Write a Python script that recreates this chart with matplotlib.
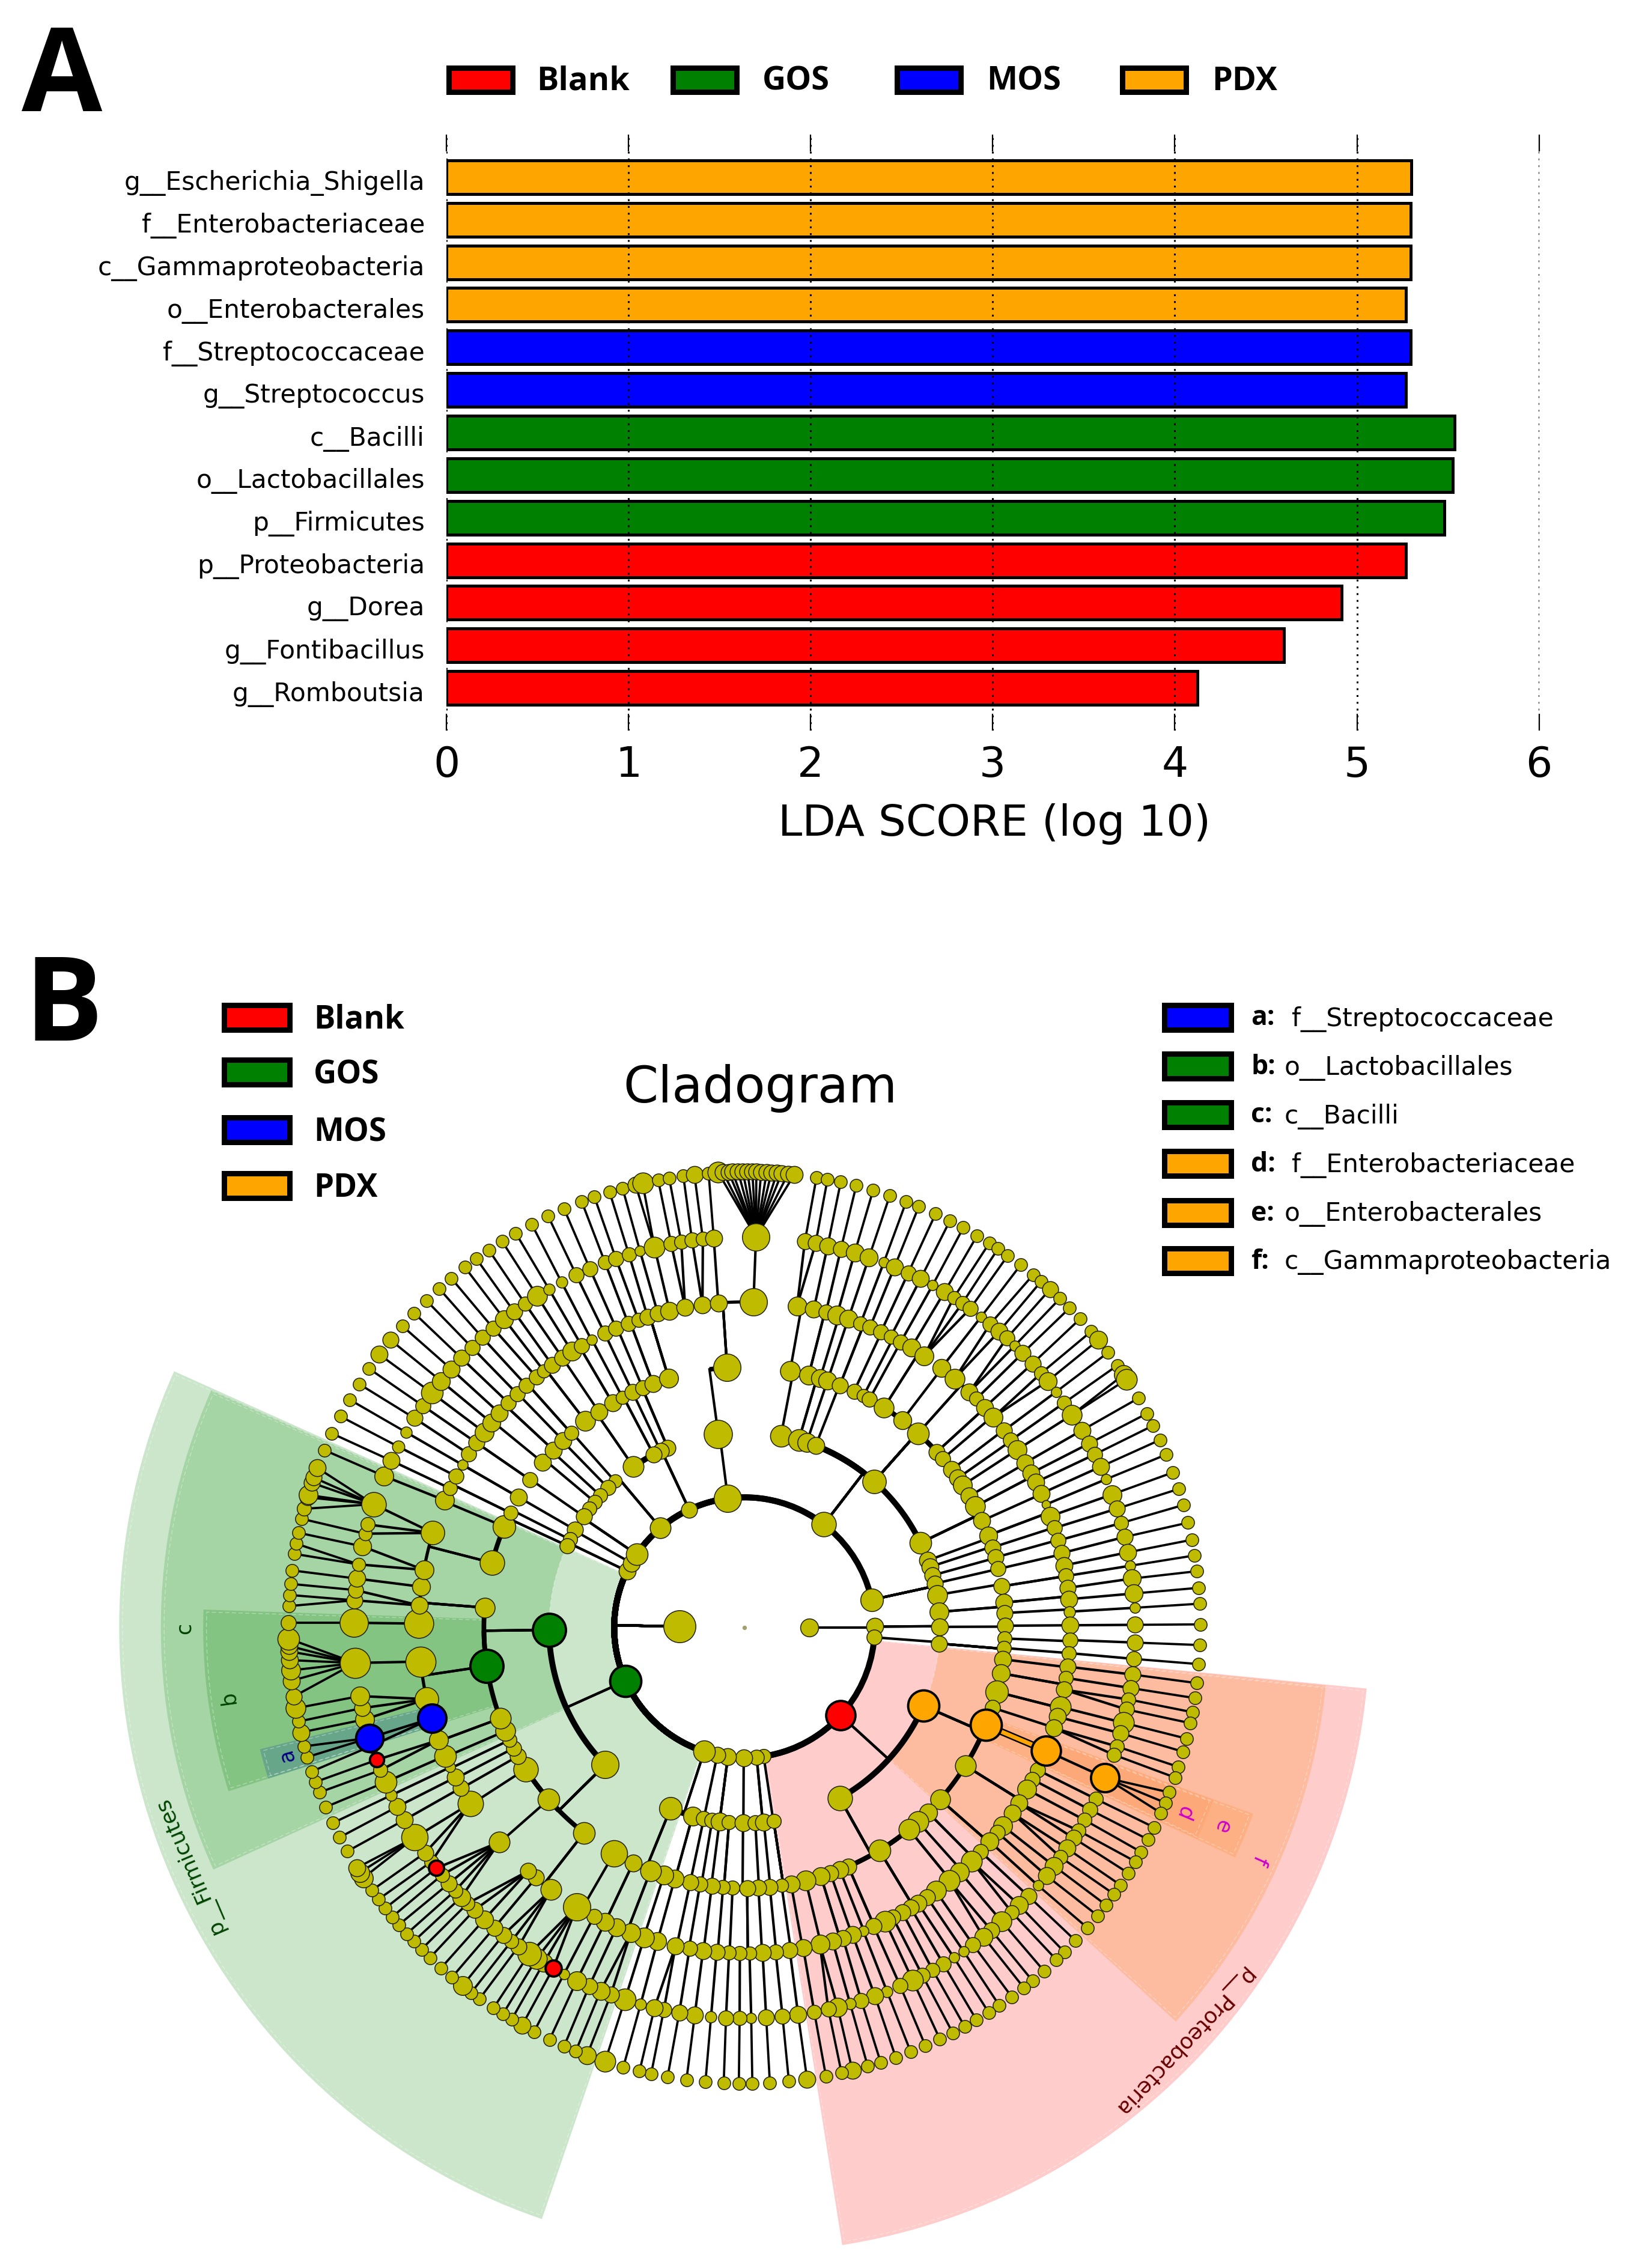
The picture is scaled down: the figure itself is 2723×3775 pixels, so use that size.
import numpy as np
import matplotlib
matplotlib.use('Agg')
import matplotlib.pyplot as plt
from matplotlib.patches import Rectangle
from matplotlib.transforms import ScaledTranslation

W, H = 2723, 3775

# ---- panel A data ----
taxa = ['g__Romboutsia', 'g__Fontibacillus', 'g__Dorea', 'p__Proteobacteria', 'p__Firmicutes',
        'o__Lactobacillales', 'c__Bacilli', 'g__Streptococcus', 'f__Streptococcaceae',
        'o__Enterobacterales', 'c__Gammaproteobacteria', 'f__Enterobacteriaceae', 'g__Escherichia_Shigella']
lda = [4.125, 4.60, 4.915, 5.27, 5.48, 5.525, 5.535, 5.27, 5.295, 5.27, 5.295, 5.295, 5.30]
taxa_group = ['Blank', 'Blank', 'Blank', 'Blank', 'GOS', 'GOS', 'GOS', 'MOS', 'MOS', 'PDX', 'PDX', 'PDX', 'PDX']
groups = ['Blank', 'GOS', 'MOS', 'PDX']
group_colors = {'Blank': '#ff0000', 'GOS': '#008000', 'MOS': '#0000ff', 'PDX': '#ffa500'}

# ---- panel B data: (angle in degrees, node diameter) for each ring of the cladogram ----
ring1 = [(179.0, 68), (0.0, 38)]
ring2 = [(97.3, 58), (52.4, 52), (12.3, 48), (0.4, 36), (-4.3, 32), (-42.4, 62), (-81.5, 30), (-84.6, 32),
         (-90.3, 36), (-97.3, 36), (-102.0, 34), (-108.0, 46), (-155.8, 66), (154.3, 36), (150.3, 36),
         (145.8, 46), (130.1, 44), (115.1, 34)]
ring3 = [(97.7, 60), (113.1, 34), (115.4, 34), (117.7, 34), (124.6, 44), (131.5, 28), (134.3, 32), (137.5, 30),
         (140.0, 30), (142.6, 30), (145.3, 34), (150.0, 34), (153.2, 30), (155.2, 32), (-179.3, 70), (-135.4, 58),
         (-112.2, 48), (-105.4, 40), (-102.0, 32), (-99.5, 32), (-97.3, 38), (-94.5, 30), (-90.4, 36), (-86.8, 32),
         (-84.3, 36), (-81.4, 30), (-60.8, 52), (-23.6, 66), (79.2, 46), (73.8, 46), (71.4, 40), (68.6, 36),
         (48.4, 50), (25.7, 46), (20.1, 36), (18.1, 36), (15.5, 34), (13.0, 34), (9.6, 42), (4.6, 40), (0.2, 36),
         (-4.7, 34)]
ring4 = [(79.9, 42), (75.7, 40), (73.1, 38), (71.4, 38), (68.5, 34), (65.1, 32), (62.8, 28), (61.3, 32), (57.6, 42),
         (52.7, 38), (48.2, 46), (42.4, 34), (40.4, 32), (37.3, 36), (35.0, 36), (33.1, 40), (30.3, 36), (27.7, 42),
         (24.2, 36), (20.7, 38), (17.9, 34), (15.6, 34), (13.0, 32), (9.1, 34), (5.5, 36), (3.2, 34), (0.4, 34),
         (-2.4, 30), (-4.5, 30), (-7.0, 36), (-10.1, 38), (-14.3, 48), (-17.9, 32), (-22.0, 66), (-32.0, 44),
         (-41.3, 42), (-45.2, 38), (-48.2, 44), (-50.8, 44), (-58.8, 46), (-66.5, 34), (-68.5, 36), (-70.7, 34),
         (-72.9, 38), (-76.4, 42), (-79.7, 36), (-81.8, 28), (-84.4, 34), (-86.9, 34), (-89.4, 34), (-92.6, 30),
         (-94.7, 30), (-97.2, 34), (-99.8, 32), (-102.0, 34), (-105.5, 38), (-108.0, 40), (-111.1, 44), (-115.3, 36),
         (-120.0, 56), (-128.0, 46), (-138.7, 46), (-147.1, 52), (-150.4, 34), (-152.4, 32), (-154.4, 30),
         (-156.6, 42), (-159.6, 44), (-171.5, 70), (175.6, 42), (165.6, 52), (157.2, 48), (153.9, 30), (150.0, 36),
         (145.4, 32), (140.7, 36), (137.1, 36), (134.1, 36), (131.7, 30), (127.6, 42), (124.0, 36), (120.4, 36),
         (117.9, 28), (115.4, 34), (113.0, 32), (110.5, 36), (106.9, 40), (93.8, 58)]
ring5 = [(80.7, 40), (77.7, 36), (75.5, 32), (73.5, 40), (71.4, 38), (69.1, 30), (67.3, 32), (65.2, 32), (63.3, 30),
         (61.3, 32), (59.2, 38), (56.5, 40), (52.8, 38), (49.8, 42), (46.3, 36), (44.6, 30), (42.5, 36), (40.2, 40),
         (37.2, 34), (35.1, 32), (33.1, 40), (30.4, 36), (28.3, 36), (26.5, 36), (24.3, 36), (22.2, 18), (20.0, 40),
         (17.8, 32), (15.5, 32), (13.2, 34), (11.0, 36), (9.1, 32), (7.0, 34), (5.0, 36), (2.8, 24), (0.4, 36),
         (-2.2, 32), (-4.5, 30), (-6.9, 34), (-8.9, 30), (-11.0, 34), (-14.1, 44), (-15.9, 36), (-18.0, 36),
         (-22.2, 62), (-25.9, 32), (-27.8, 32), (-29.8, 40), (-32.6, 36), (-34.7, 36), (-37.5, 40), (-39.0, 32),
         (-41.1, 38), (-43.5, 32), (-45.8, 44), (-48.6, 40), (-51.0, 44), (-54.0, 42), (-55.9, 34), (-57.8, 36),
         (-59.3, 34), (-61.0, 34), (-62.9, 32), (-64.4, 44), (-66.6, 34), (-68.6, 22), (-70.6, 36), (-72.4, 34),
         (-74.3, 36), (-76.6, 40), (-79.6, 36), (-82.0, 34), (-84.5, 32), (-86.8, 36), (-89.1, 28), (-90.8, 30),
         (-92.7, 30), (-94.9, 34), (-97.3, 36), (-99.7, 32), (-102.2, 36), (-105.5, 38), (-107.9, 42), (-110.4, 40),
         (-113.1, 38), (-115.3, 38), (-117.5, 32), (-121.0, 58), (-126.4, 44), (-129.8, 34), (-131.6, 34),
         (-138.8, 44), (-147.3, 54), (-150.5, 34), (-152.6, 36), (-154.6, 22), (-156.8, 46), (-159.8, 40),
         (-163.8, 60), (-167.3, 50), (-174.0, 64), (179.3, 62), (176.1, 36), (172.8, 38), (169.8, 40), (163.1, 50),
         (157.0, 40), (154.7, 30), (152.3, 32), (150.0, 22), (147.8, 32), (145.4, 34), (143.1, 40), (141.0, 38),
         (138.8, 36), (136.4, 32), (134.2, 32), (132.0, 32), (129.7, 32), (128.0, 28), (126.2, 34), (124.0, 34),
         (122.0, 40), (120.0, 32), (118.0, 22), (115.4, 32), (113.2, 32), (110.9, 32), (109.0, 30), (107.3, 34),
         (105.4, 34), (103.3, 38), (100.5, 36), (97.4, 36), (94.6, 36), (88.4, 58)]
ring6 = [(81.1, 34), (79.5, 34), (77.7, 36), (75.7, 34), (73.6, 38), (71.4, 38), (69.1, 22), (67.4, 36), (65.2, 32),
         (63.2, 36), (61.2, 22), (59.2, 36), (57.6, 28), (56.1, 30), (54.7, 32), (52.7, 22), (51.0, 32), (49.3, 36),
         (47.8, 32), (46.2, 22), (44.6, 34), (42.5, 34), (40.6, 30), (39.1, 38), (37.1, 22), (35.1, 30), (33.0, 42),
         (30.3, 36), (28.1, 34), (26.3, 32), (24.3, 36), (22.3, 22), (19.9, 40), (17.7, 34), (15.5, 30), (13.4, 34),
         (11.1, 36), (9.1, 22), (7.2, 38), (5.0, 38), (2.9, 22), (0.4, 34), (-2.2, 34), (-4.6, 32), (-6.9, 34),
         (-8.9, 34), (-10.6, 30), (-12.1, 32), (-14.1, 44), (-15.7, 34), (-17.7, 30), (-19.0, 30), (-22.6, 60),
         (-26.0, 30), (-27.8, 32), (-29.5, 30), (-31.3, 30), (-32.6, 34), (-34.4, 36), (-36.0, 30), (-37.6, 38),
         (-39.4, 36), (-41.3, 22), (-43.4, 34), (-45.3, 38), (-46.8, 30), (-48.8, 42), (-50.8, 34), (-52.3, 38),
         (-54.2, 32), (-55.9, 22), (-57.6, 22), (-59.4, 32), (-61.2, 30), (-62.9, 32), (-64.5, 44), (-66.5, 32),
         (-68.6, 24), (-70.5, 36), (-72.6, 32), (-74.3, 24), (-76.2, 40), (-77.6, 32), (-79.7, 30), (-82.1, 36),
         (-84.4, 32), (-86.8, 34), (-89.0, 22), (-90.7, 30), (-92.7, 32), (-94.9, 24), (-97.3, 36), (-99.6, 34),
         (-101.9, 32), (-103.3, 36), (-105.4, 24), (-107.8, 46), (-110.0, 34), (-111.6, 38), (-113.4, 34),
         (-115.4, 40), (-117.5, 22), (-119.3, 34), (-120.9, 38), (-122.1, 44), (-123.4, 50), (-125.3, 34),
         (-126.6, 30), (-128.1, 34), (-129.8, 34), (-131.7, 38), (-133.7, 34), (-135.1, 30), (-136.4, 38),
         (-137.7, 30), (-139.1, 34), (-140.7, 30), (-142.0, 32), (-143.2, 30), (-144.8, 34), (-147.5, 56),
         (-150.5, 36), (-152.7, 36), (-154.6, 24), (-156.7, 46), (-158.6, 30), (-160.2, 30), (-162.4, 30),
         (-163.6, 58), (-166.4, 40), (-168.1, 34), (-169.9, 40), (-174.8, 64), (179.3, 60), (176.0, 34), (174.5, 32),
         (172.8, 36), (170.7, 28), (168.0, 38), (166.1, 28), (164.7, 30), (161.6, 52), (157.2, 40), (154.7, 36),
         (152.4, 26), (150.0, 24), (147.6, 34), (145.4, 32), (143.1, 46), (140.9, 38), (138.6, 36), (136.4, 34),
         (134.2, 32), (132.1, 32), (130.0, 32), (127.9, 38), (126.1, 34), (124.1, 30), (122.0, 42), (120.0, 24),
         (117.9, 24), (115.5, 32), (113.3, 32), (110.9, 30), (109.2, 32), (107.2, 30), (105.5, 22), (103.3, 44),
         (100.8, 32), (99.3, 30), (97.7, 32), (96.1, 30), (94.5, 36), (88.3, 58)]
ring7 = [(80.9, 27), (79.5, 27), (77.8, 27), (75.8, 27), (73.6, 27), (71.4, 27), (69.2, 27), (67.5, 27), (65.2, 27),
         (63.2, 27), (61.3, 27), (59.3, 27), (57.5, 27), (56.2, 27), (54.7, 27), (52.7, 27), (50.7, 27), (49.4, 27),
         (47.9, 34), (46.2, 27), (44.5, 27), (42.6, 27), (40.5, 27), (39.1, 38), (37.1, 27), (35.1, 27), (33.7, 40),
         (33.0, 44), (30.2, 27), (28.0, 27), (26.3, 27), (24.3, 27), (22.3, 27), (19.9, 27), (17.7, 27), (15.6, 27),
         (13.3, 27), (11.1, 27), (9.1, 27), (7.1, 27), (5.0, 27), (3.0, 27), (0.4, 27), (-2.2, 27), (-4.6, 27),
         (-7.0, 27), (-8.9, 27), (-10.7, 27), (-12.1, 27), (-14.1, 27), (-15.8, 27), (-17.8, 27), (-19.2, 27),
         (-21.2, 27), (-22.6, 27), (-24.0, 27), (-26.0, 27), (-27.7, 27), (-29.5, 27), (-30.9, 27), (-32.6, 27),
         (-34.4, 27), (-35.8, 27), (-37.5, 27), (-39.2, 27), (-41.2, 27), (-43.4, 27), (-45.4, 27), (-46.8, 27),
         (-48.9, 27), (-50.8, 27), (-52.2, 27), (-54.1, 27), (-56.0, 27), (-57.6, 27), (-59.4, 27), (-61.1, 27),
         (-62.8, 27), (-64.6, 27), (-66.6, 27), (-68.6, 27), (-70.6, 27), (-72.6, 27), (-74.3, 27), (-76.3, 36),
         (-77.7, 27), (-79.7, 27), (-82.1, 36), (-84.4, 27), (-86.8, 27), (-89.0, 27), (-90.7, 27), (-92.6, 27),
         (-94.9, 27), (-97.3, 27), (-99.7, 27), (-101.8, 27), (-103.3, 27), (-105.4, 27), (-107.8, 44), (-110.2, 38),
         (-111.7, 27), (-113.3, 27), (-115.3, 27), (-117.5, 27), (-119.2, 36), (-120.7, 27), (-122.0, 27),
         (-123.4, 27), (-125.5, 27), (-126.8, 27), (-128.2, 40), (-129.9, 27), (-131.7, 27), (-133.6, 27),
         (-135.1, 27), (-136.5, 27), (-137.8, 27), (-139.3, 27), (-140.6, 27), (-142.0, 27), (-143.4, 27),
         (-144.8, 27), (-146.7, 40), (-147.5, 40), (-148.2, 36), (-150.6, 27), (-152.6, 27), (-154.6, 27),
         (-156.8, 27), (-158.8, 27), (-160.2, 27), (-161.6, 27), (-163.5, 27), (-164.9, 27), (-166.7, 36),
         (-168.1, 27), (-169.8, 42), (-171.3, 34), (-173.3, 36), (-174.6, 40), (-175.9, 36), (-177.0, 36),
         (-177.7, 36), (-178.6, 46), (179.4, 32), (177.3, 27), (175.9, 27), (174.5, 27), (172.8, 27), (170.7, 27),
         (169.4, 27), (168.0, 27), (166.2, 27), (164.9, 30), (163.4, 34), (163.1, 40), (161.5, 34), (160.8, 34),
         (159.5, 36), (157.1, 27), (154.8, 27), (152.4, 27), (150.0, 27), (147.7, 27), (145.4, 27), (143.2, 36),
         (140.9, 34), (138.6, 27), (136.4, 27), (134.2, 27), (132.0, 27), (130.0, 27), (127.8, 27), (126.0, 27),
         (124.1, 27), (122.1, 27), (120.1, 27), (117.8, 27), (115.5, 27), (113.3, 27), (110.9, 27), (109.2, 27),
         (107.2, 27), (105.5, 27), (103.8, 34), (102.9, 44), (100.9, 27), (99.5, 27), (97.7, 27), (96.3, 36),
         (94.5, 27), (93.3, 44), (92.7, 34), (92.0, 34), (91.5, 34), (90.8, 34), (90.2, 34), (89.6, 34), (89.0, 34),
         (88.5, 34), (87.9, 34), (87.2, 34), (86.6, 34), (85.9, 34), (85.3, 34), (84.5, 34), (83.7, 36)]
rings = {1: ring1, 2: ring2, 3: ring3, 4: ring4, 5: ring5, 6: ring6, 7: ring7}

# children in (from, to) counter-clockwise that do not hang on the closest parent
spans = {2: [(5.0, -3.0, 179.0)],
         3: [(22.0, 82.0, 52.4), (120.0, 126.0, 115.1)],
         4: [(56.0, 66.0, 48.4)],
         7: [(83.2, 93.6, 88.3), (-178.9, -170.8, -174.8), (159.0, 165.5, 161.6)]}

# enriched clades: (ring, angle)
marked = {'Blank': [(2, -42.4), (6, -119.3), (6, -142.0), (6, -160.2)],
          'GOS': [(2, -155.8), (3, -179.3), (4, -171.5)],
          'MOS': [(5, -163.8), (6, -163.6)],
          'PDX': [(3, -23.6), (4, -22.0), (5, -22.2), (6, -22.6)]}

# shaded sectors: from angle, to angle, inner ring, outer ring, colour
sectors = [(155.8, 251.1, 2, 9.60, '#cce6cc'),
           (156.0, 204.5, 3, 8.96, '#a5d4a5'),
           (178.1, 197.6, 4, 8.31, '#83c483'),
           (194.1, 197.6, 5, 7.67, '#68a68a'),
           (-81.0, -5.6, 2, 9.60, '#ffcccc'),
           (-42.4, -5.7, 3, 8.97, '#fdbba0'),
           (-25.1, -20.1, 4, 8.32, '#fdb083'),
           (-25.0, -20.2, 5, 7.67, '#fca878')]
sector_labels = [('p__Firmicutes', 203.2, 9.27, '#004400', 26), ('c', 180.1, 8.60, '#004400', 25),
                 ('b', 187.7, 8.00, '#004400', 25), ('a', 195.6, 7.30, '#000080', 25),
                 ('p__Proteobacteria', -43.4, 9.27, '#660000', 26), ('f', -24.3, 8.67, '#cc00cc', 25),
                 ('e', -22.6, 7.95, '#cc00cc', 25), ('d', -22.8, 7.33, '#cc00cc', 25)]
clade_keys = [('a:', 'f__Streptococcaceae', 'MOS', 2150), ('b:', 'o__Lactobacillales', 'GOS', 2138),
              ('c:', 'c__Bacilli', 'GOS', 2138), ('d:', 'f__Enterobacteriaceae', 'PDX', 2150),
              ('e:', 'o__Enterobacterales', 'PDX', 2138), ('f:', 'c__Gammaproteobacteria', 'PDX', 2138)]


def fx(px):
    return px / W


def fy(py):
    return 1 - py / H


def key_patch(fig, x0, y0, x1, y1, color):
    # thick black box, pixel corners of the outer edge
    edge = 9
    fig.add_artist(Rectangle((fx(x0 + edge / 2), fy(y1 - edge / 2)), (x1 - x0 - edge) / W, (y1 - y0 - edge) / H,
                             transform=fig.transFigure, facecolor=color, edgecolor='black', linewidth=edge * 0.72))


fig = plt.figure(figsize=(W / 100, H / 100), dpi=100, facecolor='white')

# ---------------- panel A ----------------
ax = fig.add_axes([fx(743), fy(1216), (2561.6 - 743) / W, (1216 - 224) / H])
y = np.arange(len(taxa))
ax.barh(y, lda, height=0.79, color=[group_colors[g] for g in taxa_group], edgecolor='black', linewidth=3.6, zorder=2)
ax.set_xlim(0, 6)
ax.set_ylim(-1, 13)
ax.set_yticks(y)
ax.set_yticklabels(taxa, fontsize=30.4)
ax.tick_params(axis='y', length=0, pad=26)
# labels sit a little below the bar centres
for lab in ax.get_yticklabels():
    lab.set_transform(lab.get_transform() + ScaledTranslation(0, -0.05, fig.dpi_scale_trans))
ax.set_xticks(range(7))
ax.tick_params(axis='x', direction='in', top=True, bottom=True, length=20, width=1.6, labelsize=50, pad=17)
ax.grid(axis='x', linestyle=(0, (1, 2.7)), color='black', linewidth=2.2, zorder=3)
ax.set_axisbelow(False)
for side in ax.spines:
    ax.spines[side].set_visible(False)
ax.set_xlabel('LDA SCORE (log 10)', fontsize=52, labelpad=16)
ax.xaxis.set_label_coords((1655 - 743) / (2561.6 - 743), -(1372 - 1216) / (1216 - 224), transform=ax.transAxes)
ax.xaxis.label.set_verticalalignment('center')

for g, x0, xt in zip(groups, [743, 1115, 1488, 1863], [893, 1269, 1642, 2017]):
    key_patch(fig, x0, 109, x0 + 115, 157, group_colors[g])
    fig.text(fx(xt), fy(136), g, family='Open Sans', weight='bold', fontsize=39, va='center', ha='left')

fig.text(fx(36), fy(185), 'A', family='Open Sans', weight='bold', fontsize=140, va='baseline', ha='left')
fig.text(fx(40), fy(1732), 'B', family='Open Sans', weight='bold', fontsize=140, va='baseline', ha='left')

# ---------------- panel B legends ----------------
for g, yc in zip(groups, [1693, 1785, 1880, 1973]):
    key_patch(fig, 368, yc - 25, 486, yc + 25, group_colors[g])
    fig.text(fx(522), fy(yc + 5), g, family='Open Sans', weight='bold', fontsize=38, va='center', ha='left')

for (letter, name, g, xt), yc in zip(clade_keys, [1693, 1774, 1855, 1936, 2018, 2098]):
    key_patch(fig, 1933, yc - 25, 2053, yc + 25, group_colors[g])
    fig.text(fx(2082), fy(yc + 2), letter, family='Open Sans', weight='bold', fontsize=32, va='center', ha='left')
    fig.text(fx(xt), fy(yc + 3), name, fontsize=30.4, va='center', ha='left')

fig.text(fx(1266), fy(1835), 'Cladogram', fontsize=60, ha='center', va='baseline')

# ---------------- panel B cladogram ----------------
ring_px = 108.4
rmax = 10.15
radius = rmax * ring_px
cx, cy = 1239, 2709
pax = fig.add_axes([fx(cx - radius), fy(cy + radius), 2 * radius / W, 2 * radius / H], projection='polar')
pax.patch.set_alpha(0)
pax.axis('off')

for a0, a1, r0, r1, col in sectors:
    pax.bar(np.radians((a0 + a1) / 2), r1 - r0, width=np.radians(a1 - a0), bottom=r0, color=col,
            edgecolor='none', zorder=1)
    # faint dashed border just inside each sector
    pax.bar(np.radians((a0 + a1) / 2), r1 - r0 - 0.05, width=np.radians(a1 - a0 - 0.5), bottom=r0, fill=False,
            edgecolor='white', linewidth=1.0, linestyle=(0, (5, 3)), alpha=0.35, zorder=1.5)


def in_span(a, lo, hi):
    return (a - lo) % 360 <= (hi - lo) % 360


def find_parent(ring, a):
    for lo, hi, p in spans.get(ring, []):
        if in_span(a, lo, hi):
            return p
    cands = [n[0] for n in rings[ring - 1]]
    return min(cands, key=lambda c: abs((a - c + 180) % 360 - 180))


arc_width = {2: 7.2, 3: 7.0, 4: 5.6, 5: 3.8}
for ring in range(2, 8):
    for a, d in rings[ring]:
        p = find_parent(ring, a)
        if ring >= 6:
            lw = 3.0 if ring == 6 else 2.7
            pax.plot(np.radians([a, p]), [ring, ring - 1], color='black', lw=lw, zorder=3, solid_capstyle='round')
        else:
            pax.plot(np.radians([p, p]), [ring - 1, ring], color='black', lw=3.0, zorder=3)
            delta = (a - p + 180) % 360 - 180
            th = np.radians(p + np.linspace(0, delta, 40))
            pax.plot(th, np.full(40, ring), color='black', lw=arc_width[ring], zorder=3, solid_capstyle='butt')

# the root is only a small grey dot, no links drawn to it
pax.scatter([0], [0], s=18, color='#a0a070', zorder=5)

# orange link between the two PDX nodes
pax.plot(np.radians([-22.0, -22.2]), [4, 5], color='black', lw=8.5, zorder=3.2)
pax.plot(np.radians([-22.0, -22.2]), [4, 5], color='#ffa500', lw=5.0, zorder=3.3)

marked_colors = {(r, a): group_colors[g] for g, nodes in marked.items() for r, a in nodes}
to_pt = 1.12 * 0.72 / 1.4255
for ring in range(1, 8):
    for a, d in rings[ring]:
        col = marked_colors.get((ring, a))
        size = (d * to_pt) ** 2
        if col is None:
            pax.scatter(np.radians(a), ring, s=size, color='#bfbb00', edgecolors='#222200', linewidths=1.1, zorder=4)
        else:
            pax.scatter(np.radians(a), ring, s=size, color=col, edgecolors='black', linewidths=2.8, zorder=4.5)

for txt, a, r, col, fs in sector_labels:
    pax.text(np.radians(a), r, txt, color=col, fontsize=fs, rotation=a - 90, rotation_mode='anchor',
             ha='center', va='center', zorder=6)

pax.set_ylim(0, rmax)

fig.savefig('out.png', dpi=100)
